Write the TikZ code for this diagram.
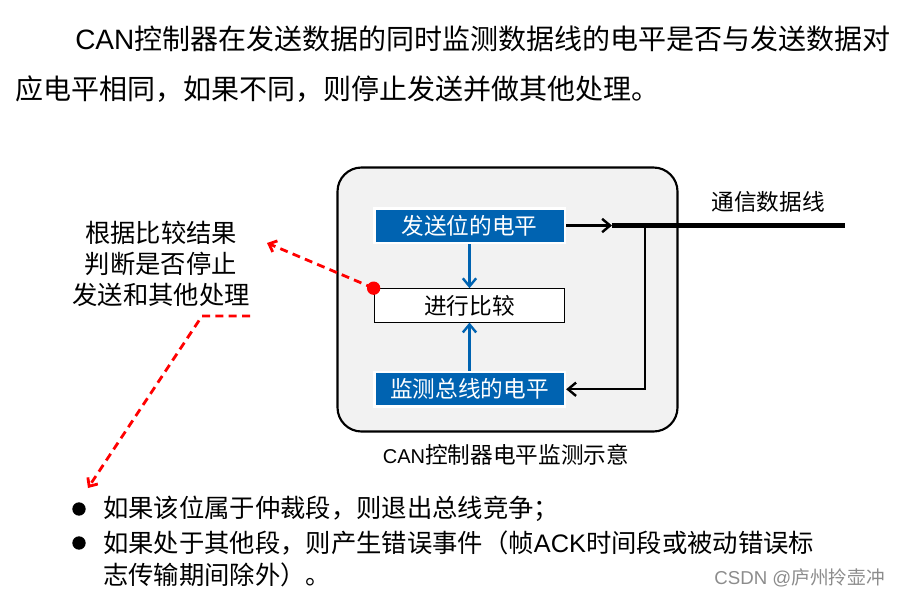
\documentclass[tikz,border=0pt]{standalone}
\usepackage{fontspec}
\setmainfont{Noto Sans CJK SC}
\newfontfamily\lat{Liberation Sans}
\usepackage{xcolor}
\usetikzlibrary{positioning, arrows.meta}
\newcommand{\setfs}[1]{\fontsize{#1}{#1}\selectfont}
\definecolor{canblue}{RGB}{0,99,177}
\definecolor{framegray}{RGB}{242,242,242}
\definecolor{markgray}{RGB}{140,140,140}
\tikzstyle{level} = [rectangle, minimum width=143pt, minimum height=26pt, inner sep=0pt, text=white, fill=canblue, draw=white, line width=2pt, font=\setfs{17}]
\tikzstyle{cmpbox} = [rectangle, minimum width=143pt, minimum height=25pt, inner sep=0pt, fill=white, draw=black, line width=0.8pt, font=\setfs{17}]
\tikzstyle{plain} = [inner sep=0pt]
\tikzstyle{arrow} = [line width=1.8pt, -{Straight Barb[length=6pt,width=10pt]}]
\tikzstyle{bluearrow} = [arrow, draw=canblue]
\tikzstyle{redarrow} = [red, line width=2.1pt, dash pattern=on 6pt off 4pt, -{Straight Barb[length=5pt,width=9pt]}]
\tikzstyle{bullet} = [circle, fill=black, minimum size=10pt, inner sep=0pt]

\begin{document}
\begin{tikzpicture}[x=0.75pt, y=-0.75pt]
    \useasboundingbox (0,0) rectangle (900,597);

    % Intro text
    \node (intro1) [plain, anchor=west, font=\setfs{21}] at (75,39) {{\lat CAN}控制器在发送数据的同时监测数据线的电平是否与发送数据对};
    \node (intro2) [plain, anchor=west, font=\setfs{21}] at (15,89) {应电平相同，如果不同，则停止发送并做其他处理。};

    % Controller frame
    \node (frame) [rectangle, draw=black, fill=framegray, line width=1.6pt, rounded corners=18pt, minimum width=255pt, minimum height=198pt] at (507.5,299.5) {};
    \node (caption) [plain, font=\setfs{17}] at (506,455) {{\lat\setfs{15}CAN}控制器电平监测示意};

    % Levels
    \node (send) [level] at (469.5,225.5) {发送位的电平};
    \node (cmp) [cmpbox, below=33pt of send] {进行比较};
    \node (mon) [level, below=36pt of cmp] {监测总线的电平};

    \draw [bluearrow] (send) -- (cmp);
    \draw [bluearrow] (mon) -- (cmp);

    % Bus line
    \coordinate (busL) at (612,225.5);
    \coordinate (busR) at (845,225.5);
    \coordinate (tap) at (645,225.5);
    \draw [line width=3.8pt] (busL) -- (busR);
    \node (buslabel) [plain, font=\setfs{17}] at (768,202) {通信数据线};
    \draw [arrow] (send) -- (busL);
    \draw [arrow] (tap) |- (mon);

    % Result of comparison
    \node (judge) [plain, align=center, font=\fontsize{19}{23.2}\selectfont] at (161,264) {根据比较结果\\判断是否停止\\发送和其他处理};
    \coordinate (hint) at (267,243);
    \coordinate (judgeout) at (250,316);
    \coordinate (tobullet) at (88,488);
    \draw [redarrow] (cmp.north west) -- (hint);
    \node (dot) [circle, fill=red, minimum size=10pt, inner sep=0pt] at (cmp.north west) {};
    \draw [redarrow] (judgeout) -- ++(-48,0) -- (tobullet);

    % Rules
    \node (b1) [bullet] at (79,509) {};
    \node (b2) [bullet] at (79,543) {};
    \node (rule1) [plain, anchor=west, font=\setfs{19}] at (103,509) {如果该位属于仲裁段，则退出总线竞争；};
    \node (rule2) [plain, anchor=west, align=left, font=\fontsize{19}{24}\selectfont] at (103,559) {如果处于其他段，则产生错误事件（帧{\lat ACK}时间段或被动错误标\\志传输期间除外）。};

    % Watermark
    \node (mark) [plain, anchor=east, text=markgray, font=\setfs{14}] at (885,578) {{\lat CSDN @}庐州拎壶冲};
\end{tikzpicture}
\end{document}
